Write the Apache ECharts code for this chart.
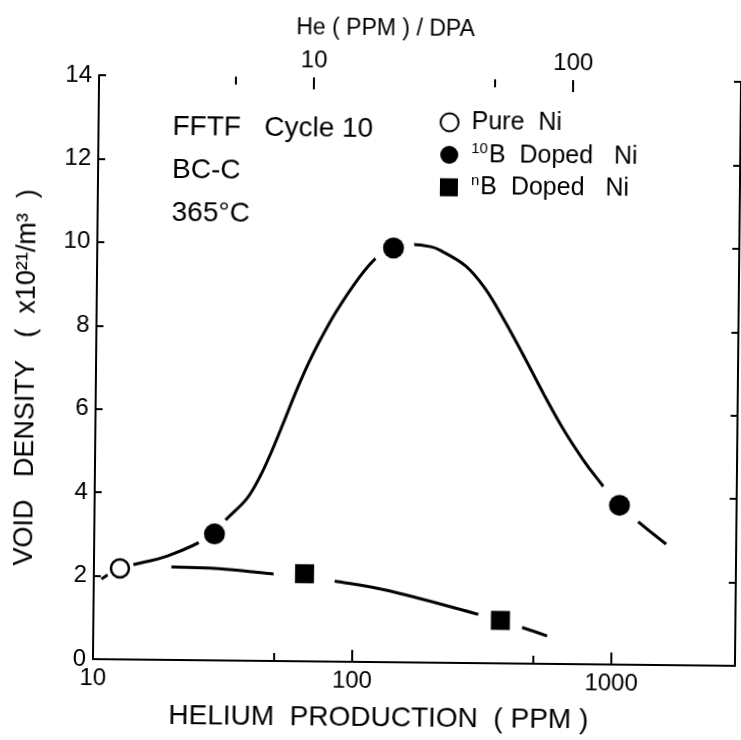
<!DOCTYPE html>
<html>
<head>
<meta charset="utf-8">
<script src="https://cdn.jsdelivr.net/npm/echarts@6/dist/echarts.min.js"></script>
<style>
html,body{margin:0;padding:0;background:#fff;overflow:hidden;}
#chart{width:741px;height:740px;transform:rotate(0.6deg);transform-origin:370px 370px;}
</style>
</head>
<body>
<div id="chart"></div>
<script>
// ---------------- data ----------------
const bottomTickLabels = ['10', '100', '1000'];
const topTickLabels = ['10', '100'];
const bottomMajorTicks = [100, 1000];  // He ppm
const bottomMinorTicks = [50, 500];    // He ppm
const topMajorTicks = [10, 100];       // He ppm / dpa
const topMinorTicks = [5, 50];         // He ppm / dpa
const HE_PPM_PER_DPA = 6.75;           // ratio between bottom and top scales

const pureNiX = [12.6];
const pureNiY = [2.18];
const b10X = [29.1, 139, 1060];
const b10Y = [3.03, 9.93, 3.82];
const nbX = [65, 372];
const nbY = [2.1, 1.03];

// hand-drawn guide curves
const fit10BX = [10.7, 12.6, 19.2, 29.1, 31.8, 38.6, 43.3, 48.1, 53.5, 59.4, 66.1, 73.4, 83.8, 101.8, 119.3, 139, 162.5, 193.9, 211.7, 264, 315, 375.6, 448, 534.6, 637.6, 760.6, 868.4, 1060, 1610];
const fit10BY = [1.92, 2.18, 2.49, 3.03, 3.34, 3.88, 4.41, 5.04, 5.76, 6.48, 7.15, 7.73, 8.38, 9.18, 9.69, 9.93, 10.02, 9.97, 9.88, 9.52, 8.98, 8.21, 7.36, 6.47, 5.64, 4.92, 4.45, 3.82, 2.9];
const fitnBX = [19.9, 30.4, 48.5, 65, 85.3, 136, 293, 372, 564];
const fitnBY = [2.23, 2.2, 2.09, 2.03, 1.93, 1.72, 1.2, 1.03, 0.67];

const annotationLines = ['FFTF   Cycle 10', 'BC-C', '365\u00B0C'];
const seriesNames = ['Pure  Ni', '\u00B9\u2070B  Doped   Ni', '\u207FB  Doped   Ni'];

// ---------------- chart ----------------
const FONT = 'Liberation Sans';
const pairs = (xs, ys) => xs.map((x, i) => [x, ys[i]]);
const X_MIN = 10, X_MAX = 3000;
const haloDiam = [28, 36, 42, 50, 62, 46];   // white gaps around markers

function labelFilter(list) {
  return v => { const s = String(Math.round(v)); return list.indexOf(s) >= 0 ? s : ''; };
}
function tickSeries(values, xAxisIndex, yVal, len) {
  return {
    type: 'scatter', silent: true, z: 5, xAxisIndex: xAxisIndex, yAxisIndex: 0,
    data: values.map(v => [v, yVal]),
    symbol: 'rect', symbolSize: [2, len], symbolOffset: [0, yVal === 0 ? -len / 2 : len / 2],
    itemStyle: { color: '#000', opacity: 1 }
  };
}
function legendRich(name) {
  return '{t|' + name.replace('\u00B9\u2070', '}{sup|10}{t|').replace('\u207F', '}{sup|n}{t|') + '}';
}

const axisLineStyle = { color: '#000', width: 2 };
const tickStyle = { color: '#000', width: 2 };

const chart = echarts.init(document.getElementById('chart'), null, { renderer: 'canvas' });
const option = {
  animation: false,
  backgroundColor: '#fff',
  textStyle: { fontFamily: FONT, color: '#000' },
  grid: { left: 96, top: 78, right: -3, bottom: 78, containLabel: false },
  xAxis: [
    {
      type: 'log', logBase: 10, min: X_MIN, max: X_MAX, position: 'bottom',
      axisLine: { lineStyle: axisLineStyle },
      axisTick: { show: false },
      axisLabel: { formatter: labelFilter(bottomTickLabels), fontSize: 24, color: '#000', margin: 7, fontFamily: FONT },
      splitLine: { show: false },
      minorTick: { show: false },
      name: 'HELIUM  PRODUCTION  ( PPM )', nameLocation: 'middle', nameGap: 42,
      nameTextStyle: { fontSize: 28, color: '#000', fontFamily: FONT, padding: [0, 70, 0, 0] }
    },
    {
      type: 'log', logBase: 10, min: X_MIN / HE_PPM_PER_DPA, max: X_MAX / HE_PPM_PER_DPA, position: 'top',
      axisLine: { lineStyle: axisLineStyle },
      axisTick: { show: false },
      axisLabel: { formatter: labelFilter(topTickLabels), fontSize: 24, color: '#000', margin: 5, fontFamily: FONT },
      splitLine: { show: false },
      name: 'He ( PPM ) / DPA', nameLocation: 'middle', nameGap: 38,
      nameTextStyle: { fontSize: 23, color: '#000', fontFamily: FONT, padding: [0, 70, 0, 0] }
    }
  ],
  yAxis: [
    {
      type: 'value', min: 0, max: 14, interval: 2, position: 'left',
      axisLine: { lineStyle: axisLineStyle },
      axisTick: { inside: true, length: 7, lineStyle: tickStyle },
      axisLabel: { fontSize: 24, color: '#000', margin: 7, fontFamily: FONT },
      splitLine: { show: false },
      name: 'VOID   DENSITY   (  x10\u00B2\u00B9/m\u00B3  )', nameLocation: 'middle', nameGap: 56, nameRotate: 90,
      nameTextStyle: { fontSize: 27, color: '#000', fontFamily: FONT, padding: [0, 22, 0, 0] }
    },
    {
      type: 'value', min: 0, max: 14, interval: 2, position: 'right',
      axisLine: { lineStyle: axisLineStyle },
      axisTick: { inside: true, length: 7, lineStyle: tickStyle },
      axisLabel: { show: false },
      splitLine: { show: false }
    }
  ],
  legend: {
    orient: 'vertical', left: 432, top: 104, padding: 5, itemWidth: 18, itemHeight: 18, itemGap: 6,
    data: seriesNames,
    formatter: legendRich,
    textStyle: {
      fontSize: 25, color: '#000', fontFamily: FONT, padding: [0, 0, 0, 8],
      rich: {
        t: { fontSize: 25, lineHeight: 28, fontFamily: FONT, color: '#000' },
        sup: { fontSize: 15, lineHeight: 12, verticalAlign: 'top', fontFamily: FONT, color: '#000', padding: [0, 1, 0, 0] }
      }
    },
    selectedMode: false
  },
  graphic: annotationLines.map((t, i) => ({
    type: 'text', left: 170, top: 115 + i * 43,
    style: { text: t, fontSize: 28, fontFamily: FONT, fill: '#000' }
  })),
  series: [
    {
      type: 'line', name: 'fit10B', data: pairs(fit10BX, fit10BY), smooth: 0.35,
      showSymbol: false, lineStyle: { color: '#000', width: 3 }, z: 2, silent: true
    },
    {
      type: 'line', name: 'fitnB', data: pairs(fitnBX, fitnBY), smooth: 0.35,
      showSymbol: false, lineStyle: { color: '#000', width: 3 }, z: 2, silent: true
    },
    {
      type: 'scatter', name: 'halo', silent: true, z: 3,
      data: pairs(pureNiX, pureNiY).concat(pairs(b10X, b10Y), pairs(nbX, nbY)),
      symbol: 'circle', symbolSize: (v, p) => haloDiam[p.dataIndex],
      itemStyle: { color: '#fff', opacity: 1 }
    },
    {
      type: 'scatter', name: seriesNames[0], data: pairs(pureNiX, pureNiY), z: 4,
      symbol: 'circle', symbolSize: 18,
      itemStyle: { color: '#fff', borderColor: '#000', borderWidth: 2.5, opacity: 1 }
    },
    {
      type: 'scatter', name: seriesNames[1], data: pairs(b10X, b10Y), z: 4,
      symbol: 'circle', symbolSize: 21,
      itemStyle: { color: '#000', opacity: 1 }
    },
    {
      type: 'scatter', name: seriesNames[2], data: pairs(nbX, nbY), z: 4,
      symbol: 'rect', symbolSize: 19,
      itemStyle: { color: '#000', opacity: 1 }
    },
    tickSeries(bottomMajorTicks, 0, 0, 12),
    tickSeries(bottomMinorTicks, 0, 0, 8),
    tickSeries(topMajorTicks, 1, 14, 12),
    tickSeries(topMinorTicks, 1, 14, 8)
  ]
};
chart.setOption(option);
</script>
</body>
</html>
